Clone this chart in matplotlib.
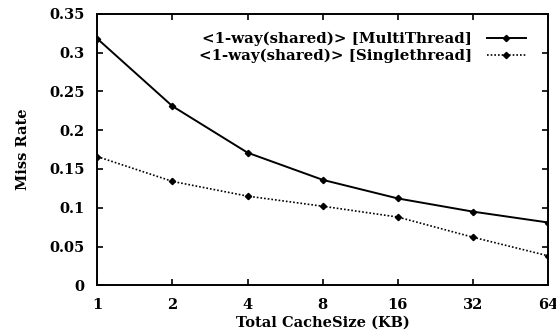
import numpy as np
import matplotlib
matplotlib.use("Agg")
import matplotlib.pyplot as plt

cache_kb = [1, 2, 4, 8, 16, 32, 64]
multi = [0.318, 0.231, 0.171, 0.136, 0.112, 0.095, 0.081]
single = [0.166, 0.134, 0.115, 0.102, 0.088, 0.062, 0.038]
tick_labels = ["1", "2", "4", "8", "16", "32", "64"]

plt.rcParams["font.family"] = ["DejaVu Serif"]
plt.rcParams["font.weight"] = "bold"

fig = plt.figure(figsize=(5.56, 3.31), dpi=100)
ax = fig.add_axes([0.175, 0.138, 0.811, 0.82])

ax.plot(cache_kb, multi, color="black", lw=1.4, marker="D", ms=3.2,
        label="<1-way(shared)> [MultiThread]")
ax.plot(cache_kb, single, color="black", lw=1.2, ls=(0, (1, 1.2)), marker="D", ms=3.2,
        label="<1-way(shared)> [Singlethread]")

ax.set_xscale("log", base=2)
ax.set_xlim(1, 64)
ax.set_ylim(0, 0.35)
ax.set_xticks(cache_kb)
ax.set_xticklabels(tick_labels)
ax.set_yticks(np.arange(0, 0.36, 0.05))
ax.set_yticklabels(["0", "0.05", "0.1", "0.15", "0.2", "0.25", "0.3", "0.35"])
ax.minorticks_off()
ax.tick_params(direction="in", top=True, right=True, length=4, width=1.2,
               labelsize=10.5)
ax.tick_params(axis="x", pad=9)
ax.tick_params(axis="y", pad=9)
for s in ax.spines.values():
    s.set_linewidth(1.4)

ax.set_xlabel("Total CacheSize (KB)", fontsize=10.5, fontweight="bold", labelpad=3)
ax.set_ylabel("Miss Rate", fontsize=10.5, fontweight="bold", labelpad=14)

ax.legend(loc="upper right", frameon=False, markerfirst=False,
          handlelength=2.6, handletextpad=1.0, borderaxespad=0.8, labelspacing=0.15,
          bbox_to_anchor=(0.99, 1.0),
          prop={"weight": "bold", "size": 10.8})

fig.savefig("out.png", dpi=100)
